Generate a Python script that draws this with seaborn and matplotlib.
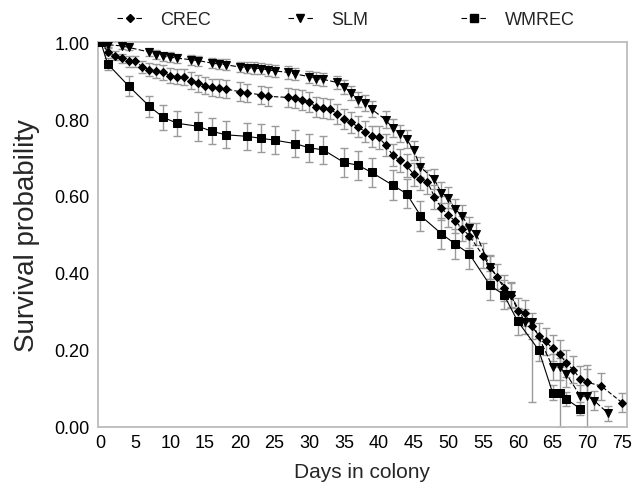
import numpy as np
import pandas as pd
import matplotlib
matplotlib.use("Agg")
import matplotlib.pyplot as plt
import seaborn as sns

# Kaplan-Meier style survival
CREC_DAYS = [0, 1, 2, 3, 4, 5, 6, 7, 8, 9,
             10, 11, 12, 13, 14, 15, 16, 17, 18, 20,
             21, 23, 24, 27, 28, 29, 30, 31, 32, 33,
             34, 35, 36, 37, 38, 39, 40, 41, 42, 43,
             44, 45, 46, 47, 48, 49, 50, 51, 52, 53,
             55, 56, 57, 58, 59, 60, 61, 62, 63, 64,
             65, 66, 67, 68, 69, 70, 72, 75]
CREC_SURV = [1.000, 0.975, 0.965, 0.958, 0.950, 0.950, 0.935, 0.928, 0.924, 0.921,
             0.913, 0.910, 0.910, 0.900, 0.893, 0.887, 0.882, 0.880, 0.878, 0.871,
             0.868, 0.863, 0.859, 0.856, 0.854, 0.850, 0.845, 0.830, 0.828, 0.826,
             0.813, 0.800, 0.791, 0.780, 0.767, 0.755, 0.752, 0.732, 0.706, 0.693,
             0.680, 0.656, 0.645, 0.636, 0.598, 0.569, 0.550, 0.535, 0.515, 0.497,
             0.445, 0.415, 0.390, 0.361, 0.343, 0.302, 0.295, 0.262, 0.237, 0.222,
             0.204, 0.190, 0.165, 0.148, 0.124, 0.116, 0.106, 0.063]
CREC_ERR = [0.000, 0.009, 0.011, 0.012, 0.014, 0.015, 0.016, 0.017, 0.018, 0.019,
            0.020, 0.020, 0.021, 0.021, 0.022, 0.022, 0.022, 0.023, 0.023, 0.024,
            0.024, 0.024, 0.025, 0.025, 0.025, 0.026, 0.026, 0.026, 0.026, 0.027,
            0.027, 0.027, 0.028, 0.028, 0.028, 0.028, 0.029, 0.029, 0.029, 0.030,
            0.030, 0.030, 0.030, 0.031, 0.031, 0.031, 0.031, 0.032, 0.032, 0.032,
            0.032, 0.032, 0.033, 0.033, 0.033, 0.033, 0.034, 0.034, 0.034, 0.034,
            0.034, 0.035, 0.035, 0.035, 0.035, 0.035, 0.035, 0.025]

SLM_DAYS = [0, 1, 3, 4, 7, 8, 9, 10, 11, 13,
            14, 16, 17, 18, 20, 21, 22, 23, 24, 25,
            27, 28, 30, 31, 32, 34, 35, 36, 37, 38,
            39, 41, 42, 43, 44, 45, 46, 48, 49, 50,
            51, 52, 53, 54, 56, 59, 61, 62, 65, 66,
            67, 69, 70, 71, 73]
SLM_SURV = [1.000, 0.993, 0.990, 0.986, 0.974, 0.967, 0.963, 0.961, 0.958, 0.954,
            0.952, 0.945, 0.943, 0.941, 0.935, 0.933, 0.932, 0.931, 0.928, 0.925,
            0.921, 0.917, 0.910, 0.905, 0.903, 0.895, 0.884, 0.868, 0.850, 0.842,
            0.825, 0.798, 0.776, 0.762, 0.748, 0.719, 0.675, 0.643, 0.608, 0.596,
            0.565, 0.549, 0.517, 0.502, 0.415, 0.343, 0.273, 0.273, 0.156, 0.156,
            0.137, 0.080, 0.080, 0.068, 0.035]
SLM_ERR_LO = [0.000, 0.006, 0.007, 0.008, 0.010, 0.011, 0.012, 0.012, 0.012, 0.013,
              0.013, 0.013, 0.014, 0.014, 0.014, 0.014, 0.015, 0.015, 0.015, 0.015,
              0.016, 0.016, 0.016, 0.017, 0.017, 0.018, 0.018, 0.019, 0.020, 0.020,
              0.021, 0.022, 0.023, 0.023, 0.024, 0.025, 0.026, 0.026, 0.027, 0.027,
              0.028, 0.028, 0.029, 0.029, 0.030, 0.031, 0.032, 0.208, 0.033, 0.033,
              0.033, 0.030, 0.080, 0.025, 0.020]
SLM_ERR_HI = [0.000, 0.006, 0.007, 0.008, 0.010, 0.011, 0.012, 0.012, 0.012, 0.013,
              0.013, 0.013, 0.014, 0.014, 0.014, 0.014, 0.015, 0.015, 0.015, 0.015,
              0.016, 0.016, 0.016, 0.017, 0.017, 0.018, 0.018, 0.019, 0.020, 0.020,
              0.021, 0.022, 0.023, 0.023, 0.024, 0.025, 0.026, 0.026, 0.027, 0.027,
              0.028, 0.028, 0.029, 0.029, 0.030, 0.031, 0.032, 0.005, 0.033, 0.033,
              0.033, 0.030, 0.080, 0.025, 0.020]

WMREC_DAYS = [0, 1, 4, 7, 9, 11, 14, 16, 18, 21,
              23, 25, 28, 30, 32, 35, 37, 39, 42, 44,
              46, 49, 51, 53, 56, 58, 60, 63, 65, 66,
              67, 69]
WMREC_SURV = [1.000, 0.943, 0.886, 0.833, 0.804, 0.789, 0.781, 0.768, 0.759, 0.755,
              0.750, 0.745, 0.736, 0.725, 0.720, 0.687, 0.680, 0.661, 0.628, 0.606,
              0.549, 0.502, 0.475, 0.450, 0.368, 0.343, 0.274, 0.200, 0.089, 0.089,
              0.072, 0.047]
WMREC_ERR = [0.000, 0.015, 0.026, 0.028, 0.033, 0.032, 0.037, 0.034, 0.035, 0.035,
             0.036, 0.036, 0.036, 0.036, 0.036, 0.037, 0.038, 0.037, 0.039, 0.038,
             0.039, 0.040, 0.040, 0.040, 0.038, 0.038, 0.036, 0.030, 0.020, 0.090,
             0.018, 0.017]

X_TICKS = list(range(0, 76, 5))
Y_TICKS = [0.0, 0.2, 0.4, 0.6, 0.8, 1.0]

sns.set_theme(style="white")
plt.rcParams["font.family"] = ["Liberation Sans", "DejaVu Sans"]

fig = plt.figure(figsize=(6.32, 4.89), dpi=100)
ax = fig.add_axes([0.155, 0.125, 0.837, 0.787])

bar_grey = "#9a9a9a"
series = [
    ("CREC", CREC_DAYS, CREC_SURV, (CREC_ERR, CREC_ERR), "D", 3.9, (4, 2)),
    ("SLM", SLM_DAYS, SLM_SURV, (SLM_ERR_LO, SLM_ERR_HI), "v", 5.6, (5, 2)),
    ("WMREC", WMREC_DAYS, WMREC_SURV, (WMREC_ERR, WMREC_ERR), "s", 6.0, None),
]

for name, days, surv, (lo, hi), mk, ms, dash in series:
    ax.errorbar(days, surv, yerr=[lo, hi], fmt="none", ecolor=bar_grey,
                elinewidth=1.0, capsize=3, capthick=1.0, zorder=1)
    df = pd.DataFrame({"day": days, "surv": surv})
    sns.lineplot(data=df, x="day", y="surv", ax=ax, color="black",
                 marker=mk, markersize=ms, markeredgecolor="black",
                 linewidth=0.8, zorder=3,
                 linestyle=(0, dash) if dash else "-")

ax.set_xlim(-0.4, 75.7)
ax.set_ylim(0, 1.0)
ax.set_xticks(X_TICKS)
ax.set_yticks(Y_TICKS)
ax.set_yticklabels([f"{v:.2f}" for v in Y_TICKS])
ax.tick_params(axis="both", direction="in", length=5, width=1, color="#b5b5b5",
               labelsize=13, labelcolor="black")
ax.tick_params(axis="y", pad=6)
ax.tick_params(axis="x", pad=5)
for sp in ax.spines.values():
    sp.set_color("#bcbcbc")
    sp.set_linewidth(1.3)

ax.set_xlabel("Days in colony", fontsize=15, labelpad=8)
ax.set_ylabel("Survival probability", fontsize=20, labelpad=10)

# one legend per entry, evenly spaced above the axes like the original
legend_x = [0.185, 0.455, 0.730]
for (name, days, surv, errs, mk, ms, dash), lx in zip(series, legend_x):
    h = plt.Line2D([], [], color="black", linewidth=0.8, marker=mk,
                   markersize=ms, markerfacecolor="black", markeredgecolor="black",
                   linestyle=(0, (5, 12)))
    fig.legend([h], [name], loc="center left", bbox_to_anchor=(lx, 0.958),
               frameon=False, fontsize=13, handlelength=1.4, handletextpad=1.0,
               borderaxespad=0, borderpad=0)

fig.savefig("out.png", dpi=100)
